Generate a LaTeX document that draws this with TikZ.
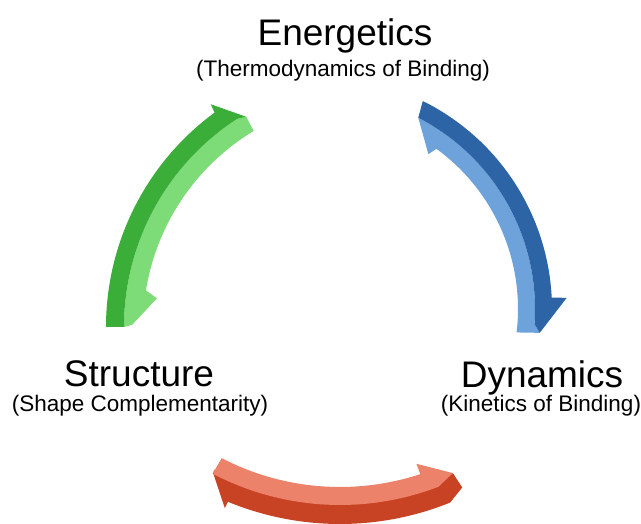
\documentclass[tikz,border=0pt]{standalone}
\usepackage{fontspec}
\setmainfont{Liberation Sans}

\definecolor{greenTop}{RGB}{58,174,56}
\definecolor{greenSide}{RGB}{126,220,120}
\definecolor{blueTop}{RGB}{45,100,165}
\definecolor{blueSide}{RGB}{110,162,218}
\definecolor{redTop}{RGB}{235,130,105}
\definecolor{redSide}{RGB}{200,66,36}

\begin{document}
\begin{tikzpicture}[x=1pt, y=1pt,
    title/.style={anchor=base, font=\fontsize{37}{40}\selectfont},
    subtitle/.style={anchor=base, font=\fontsize{22.5}{26}\selectfont}]
    \useasboundingbox (0,0) rectangle (641,524);

    \node[title] (energetics) at (345,478) {Energetics};
    \node[subtitle] (energeticsSub) at (343,447) {(Thermodynamics of Binding)};
    \node[title] (structure) at (139,137) {Structure};
    \node[subtitle] (structureSub) at (140,112) {(Shape Complementarity)};
    \node[title] (dynamics) at (542,136) {Dynamics};
    \node[subtitle] (dynamicsSub) at (541,112) {(Kinetics of Binding)};

    % structure -> energetics
    \begin{scope}[shift={(372,197)}]
        \fill[greenSide] (179.5:240pt) -- (172.4:217pt) -- (170.8:229pt)
            arc[start angle=170.8, end angle=121.1, radius=229pt]
            -- (120.9:245pt) -- (123:248pt)
            arc[start angle=123, end angle=180, radius=248pt] -- cycle;
        \fill[greenTop] (180:266pt)
            arc[start angle=180, end angle=126.3, radius=266pt]
            -- (125.9:275pt) -- (120.9:245pt) -- (123:248pt)
            arc[start angle=123, end angle=180, radius=248pt] -- cycle;
    \end{scope}

    % energetics -> dynamics
    \begin{scope}[shift={(320,215)}]
        \fill[blueSide] (62.8:215pt) -- (55:189pt) -- (54:198pt)
            arc[start angle=54, end angle=-6.8, radius=198pt]
            -- (-6.2:221pt) -- (-4:215pt)
            arc[start angle=-4, end angle=62.8, radius=215pt] -- cycle;
        \fill[blueTop] (63.7:232pt)
            arc[start angle=63.7, end angle=2.8, radius=232pt]
            -- (2.6:247pt) -- (-6.2:221pt) -- (-4:215pt)
            arc[start angle=-4, end angle=62.8, radius=215pt] -- cycle;
    \end{scope}

    % dynamics -> structure
    \begin{scope}[shift={(340,294)}]
        \fill[redSide] (242.4:274pt) -- (247.5:301pt) -- (247.6:294pt)
            arc[start angle=247.6, end angle=292, radius=294pt]
            -- (295.4:285pt) -- (294.9:268pt) -- (291:270pt)
            arc[start angle=291, end angle=242.4, radius=270pt] -- cycle;
        \fill[redTop] (242.6:257pt)
            arc[start angle=242.6, end angle=288.2, radius=257pt]
            -- (288.1:246pt) -- (294.9:268pt) -- (291:275pt)
            arc[start angle=291, end angle=242.4, radius=275pt] -- cycle;
    \end{scope}
\end{tikzpicture}
\end{document}
